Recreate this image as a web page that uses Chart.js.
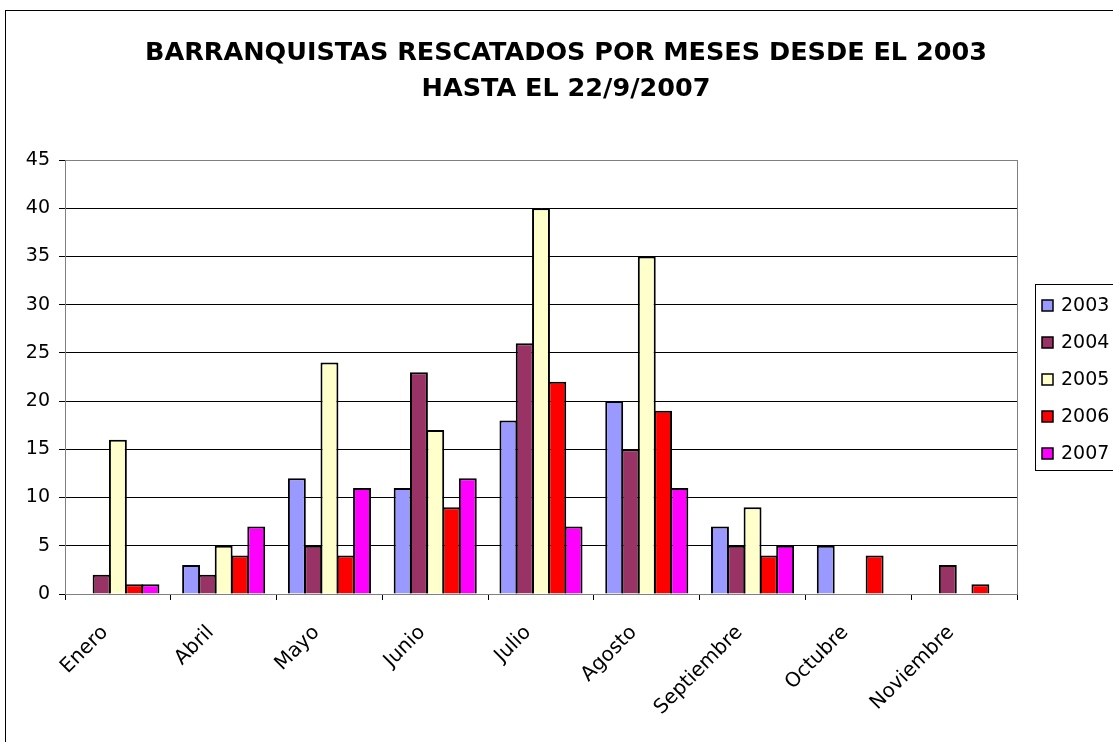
<!DOCTYPE html>
<html>
<head>
<meta charset="utf-8">
<script src="https://cdn.jsdelivr.net/npm/chart.js@4/dist/chart.umd.min.js"></script>
<style>
  html, body { margin: 0; padding: 0; background: #fff; }
  #wrap { width: 1113px; height: 742px; }
</style>
</head>
<body>
<div id="wrap"><canvas id="chart" width="1113" height="742"></canvas></div>
<script>
// months on the x axis
const months = ['Enero', 'Abril', 'Mayo', 'Junio', 'Julio', 'Agosto', 'Septiembre', 'Octubre', 'Noviembre'];

// rescues per year, one value per month
const y2003 = [0, 3, 12, 11, 18, 20, 7, 5, 0];
const y2004 = [2, 2, 5, 23, 26, 15, 5, 0, 3];
const y2005 = [16, 5, 24, 17, 40, 35, 9, 0, 0];
const y2006 = [1, 4, 4, 9, 22, 19, 4, 4, 1];
const y2007 = [1, 7, 11, 12, 7, 11, 5, 0, 0];

const yearLabels = ['2003', '2004', '2005', '2006', '2007'];
const yearColors = ['#9999FF', '#993366', '#FFFFCC', '#FF0000', '#FF00FF'];
const yTicks = [0, 5, 10, 15, 20, 25, 30, 35, 40, 45];
const titleLines = ['BARRANQUISTAS RESCATADOS POR MESES DESDE EL 2003', 'HASTA EL 22/9/2007'];

const FONT = 'DejaVu Sans';

// outer frame, title, plot border and the boxed legend
const frameAndLegend = {
  id: 'frameAndLegend',
  afterDraw(chart) {
    const ctx = chart.ctx;
    const area = chart.chartArea;
    ctx.save();
    // outer frame (runs off the right and bottom edge)
    ctx.strokeStyle = '#000';
    ctx.lineWidth = 1;
    ctx.strokeRect(5.5, 10.5, 1200, 800);
    // title
    ctx.fillStyle = '#000';
    ctx.font = 'bold 25.5px ' + FONT;
    ctx.textAlign = 'center';
    ctx.textBaseline = 'middle';
    titleLines.forEach((t, i) => ctx.fillText(t, 566, 53 + i * 36));
    // plot area border
    ctx.strokeStyle = '#808080';
    ctx.strokeRect(Math.round(area.left) + 0.5, Math.round(area.top) + 0.5,
      Math.round(area.right - area.left), Math.round(area.bottom - area.top));
    // legend
    const lx = 1035, ly = 284, lh = 37;
    ctx.strokeStyle = '#000';
    ctx.strokeRect(lx + 0.5, ly + 0.5, 100, 186);
    ctx.font = '19px ' + FONT;
    ctx.textAlign = 'left';
    chart.data.datasets.forEach((ds, i) => {
      const cy = ly + 22 + i * lh;
      ctx.fillStyle = ds.backgroundColor;
      ctx.fillRect(lx + 7, cy - 6, 11, 11);
      ctx.strokeStyle = '#000';
      ctx.lineWidth = 1.5;
      ctx.strokeRect(lx + 7, cy - 6, 11, 11);
      ctx.fillStyle = '#000';
      ctx.fillText(ds.label, lx + 26, cy);
    });
    ctx.restore();
  }
};

const series = [y2003, y2004, y2005, y2006, y2007];

new Chart(document.getElementById('chart'), {
  type: 'bar',
  data: {
    labels: months,
    datasets: series.map((values, i) => ({
      label: yearLabels[i],
      data: values,
      backgroundColor: yearColors[i],
      borderColor: '#000',
      borderWidth: 2,
      borderSkipped: 'bottom',
      inflateAmount: 0,
      categoryPercentage: 0.77,
      barPercentage: 1.1
    }))
  },
  options: {
    responsive: false,
    animation: false,
    layout: { padding: { left: 0, right: 96, top: 160, bottom: 0 } },
    plugins: {
      legend: { display: false },
      tooltip: { enabled: false },
      title: { display: false }
    },
    scales: {
      x: {
        offset: true,
        grid: { display: true, offset: true, drawOnChartArea: false, color: '#000', tickLength: 6 },
        border: { display: true, color: '#000' },
        ticks: {
          color: '#000',
          font: { family: FONT, size: 20 },
          minRotation: 45,
          maxRotation: 45,
          labelOffset: -13,
          padding: 21
        },
        afterFit(scale) { scale.height = 148; }
      },
      y: {
        min: 0,
        max: 45,
        afterBuildTicks(scale) { scale.ticks = yTicks.map(v => ({ value: v })); },
        grid: { color: '#000', tickLength: 6, lineWidth: 1 },
        border: { display: true, color: '#000' },
        ticks: {
          color: '#000',
          font: { family: FONT, size: 19 },
          padding: 9
        },
        afterFit(scale) { scale.width = 65; }
      }
    }
  },
  plugins: [frameAndLegend]
});
</script>
</body>
</html>
